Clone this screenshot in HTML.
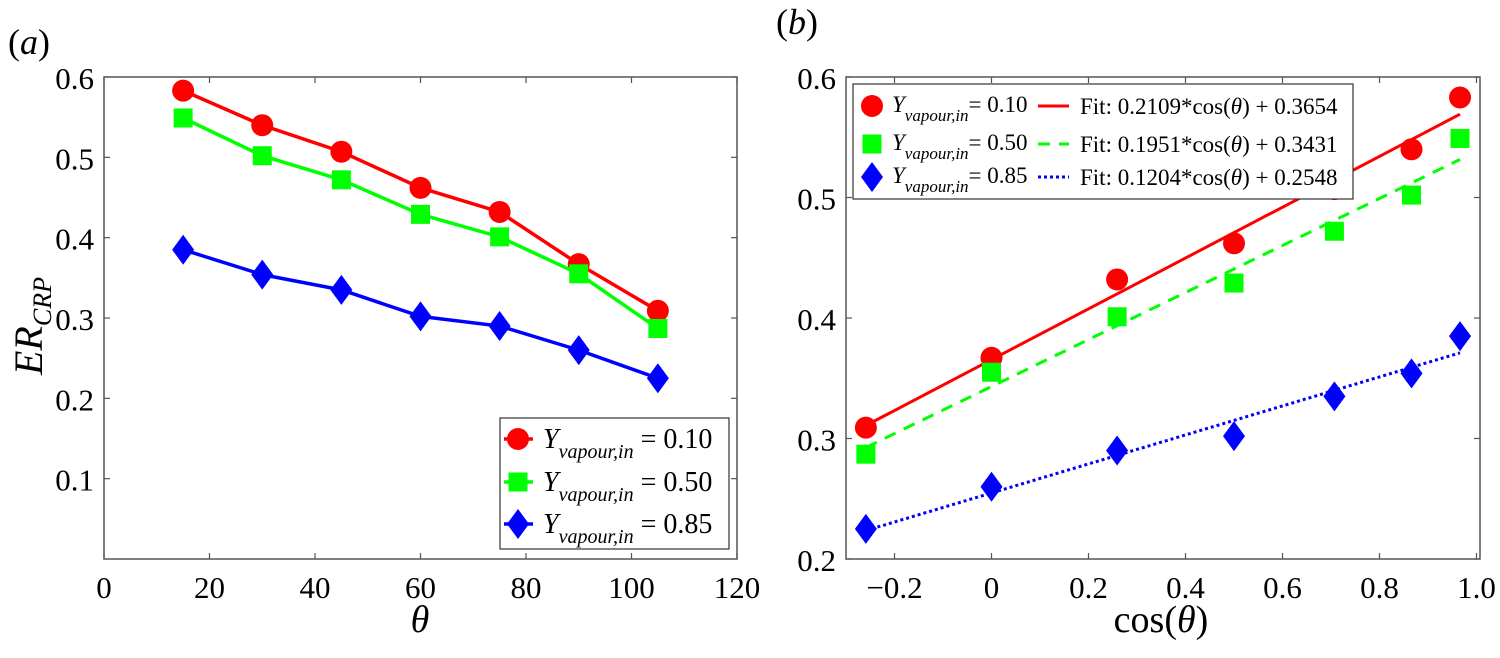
<!DOCTYPE html>
<html><head><meta charset="utf-8"><style>
body{margin:0;background:#fff;}
svg, svg text{font-family:"Liberation Serif","DejaVu Serif",serif;}
</style></head><body>
<svg id="c" width="1500" height="653" xmlns="http://www.w3.org/2000/svg" font-family="Liberation Serif, DejaVu Serif, serif"></svg>
<script>
const thetaVals=[15,30,45,60,75,90,105];
const cosVals=[0.966,0.866,0.707,0.5,0.259,0,-0.259];
const seriesRed=[0.583,0.540,0.507,0.462,0.432,0.367,0.309];
const seriesGreen=[0.549,0.502,0.472,0.429,0.401,0.355,0.287];
const seriesBlue=[0.385,0.354,0.335,0.302,0.290,0.260,0.225];
const fitSlopes=[0.2109,0.1951,0.1204];
const fitIntercepts=[0.3654,0.3431,0.2548];
const legendVals=["0.10","0.50","0.85"];
const leftXTicks=[0,20,40,60,80,100,120];
const leftYTicks=[0.1,0.2,0.3,0.4,0.5,0.6];
const rightXTicks=[-0.2,0,0.2,0.4,0.6,0.8,1.0];
const rightXTickLabels=["\u22120.2","0","0.2","0.4","0.6","0.8","1.0"];
const rightYTicks=[0.2,0.3,0.4,0.5,0.6];

const svg=document.getElementById('c');
const NS='http://www.w3.org/2000/svg';
const FF='"Liberation Serif","DejaVu Serif",serif';
function mk(tag,attrs,parent){const e=document.createElementNS(NS,tag);for(const k in attrs)e.setAttribute(k,attrs[k]);if(tag==='text'){e.style.fontFamily=FF;e.setAttribute('fill','#000');}(parent||svg).appendChild(e);return e;}
const colors=['#ff0000','#00ff00','#0000ff'];
const allSeries=[seriesRed,seriesGreen,seriesBlue];

const L={x0:104,x1:737,y0:559,y1:77,xmin:0,xmax:120,ymin:0,ymax:0.6};
const R={x0:846,x1:1480,y0:559,y1:77,xmin:-0.3,xmax:1.0072,ymin:0.2,ymax:0.6};
function sx(A,v){return A.x0+(v-A.xmin)/(A.xmax-A.xmin)*(A.x1-A.x0);}
function sy(A,v){return A.y0-(v-A.ymin)/(A.ymax-A.ymin)*(A.y0-A.y1);}

function marker(g,kind,x,y,col){
  let m;
  if(kind===0)m=mk('circle',{cx:x,cy:y,r:11,fill:col},g);
  else if(kind===1)m=mk('rect',{x:x-9.5,y:y-9.5,width:19,height:19,fill:col},g);
  else m=mk('polygon',{points:`${x},${y-15} ${x+11},${y} ${x},${y+15} ${x-11},${y}`,fill:col},g);
  return m;
}
function axes(A,name,xt,xl,yt){
  const g=mk('g',{});
  
  
  mk('rect',{x:A.x0,y:A.y1,width:A.x1-A.x0,height:A.y0-A.y1,fill:'none',stroke:'#555','stroke-width':1.5},g);
  xt.forEach((v,i)=>{const x=sx(A,v);
    mk('line',{x1:x,x2:x,y1:A.y0,y2:A.y0-6,stroke:'#555','stroke-width':1.2},g);
    mk('line',{x1:x,x2:x,y1:A.y1,y2:A.y1+6,stroke:'#555','stroke-width':1.2},g);
    const t=mk('text',{x:x,y:A.y0+39,'font-size':31,'text-anchor':'middle'},g);t.textContent=xl[i];
    
    
  });
  yt.forEach(v=>{const y=sy(A,v);
    mk('line',{x1:A.x0,x2:A.x0+6,y1:y,y2:y,stroke:'#555','stroke-width':1.2},g);
    mk('line',{x1:A.x1,x2:A.x1-6,y1:y,y2:y,stroke:'#555','stroke-width':1.2},g);
    const t=mk('text',{x:A.x0-10,y:y+12,'font-size':31,'text-anchor':'end'},g);t.textContent=v.toFixed(1);
    
    
  });
}
axes(L,'left',leftXTicks,leftXTicks.map(String),leftYTicks);
axes(R,'right',rightXTicks,rightXTickLabels,rightYTicks);

allSeries.forEach((s,k)=>{
  const g=mk('g',{});
  
  
  mk('polyline',{points:thetaVals.map((t,i)=>sx(L,t)+','+sy(L,s[i])).join(' '),fill:'none',stroke:colors[k],'stroke-width':3.5},g);
  thetaVals.forEach((t,i)=>{const m=marker(g,k,sx(L,t),sy(L,s[i]),colors[k]);
    
    });
});
const dashes=['none','12 9','3 3'];
allSeries.forEach((s,k)=>{
  const g=mk('g',{});
  
  
  const xa=Math.min(...cosVals),xb=Math.max(...cosVals);
  const ln=mk('line',{x1:sx(R,xa),y1:sy(R,fitSlopes[k]*xa+fitIntercepts[k]),x2:sx(R,xb),y2:sy(R,fitSlopes[k]*xb+fitIntercepts[k]),stroke:colors[k],'stroke-width':3,'stroke-dasharray':dashes[k]},g);
  
  
  cosVals.forEach((c,i)=>{const m=marker(g,k,sx(R,c),sy(R,s[i]),colors[k]);
    
    });
});

const lg=mk('g',{});


mk('rect',{x:500,y:418,width:229,height:131,fill:'#fff',stroke:'#333','stroke-width':1.2},lg);
[439,482,524].forEach((y,k)=>{
  mk('line',{x1:504,x2:533,y1:y,y2:y,stroke:colors[k],'stroke-width':3.5},lg);
  marker(lg,k,518,y,colors[k]);
  const t=mk('text',{x:543,y:y+9,'font-size':28},lg);
  t.innerHTML=`<tspan font-style="italic">Y</tspan><tspan font-style="italic" font-size="20" dy="10">vapour,in</tspan><tspan dy="-10"> = ${legendVals[k]}</tspan>`;
  
  
});
const rg=mk('g',{});


mk('rect',{x:853,y:84,width:500,height:115,fill:'#fff',stroke:'#333','stroke-width':1.2},rg);
[106,144,177].forEach((y,k)=>{
  marker(rg,k,872,y,colors[k]);
  const t=mk('text',{x:892,y:y+6,'font-size':23},rg);
  t.innerHTML=`<tspan font-style="italic">Y</tspan><tspan font-style="italic" font-size="17" dy="9">vapour,in</tspan><tspan dy="-9">= ${legendVals[k]}</tspan>`;
  
  
  mk('line',{x1:1038,x2:1069,y1:y,y2:y,stroke:colors[k],'stroke-width':3,'stroke-dasharray':dashes[k]},rg);
  const f=mk('text',{x:1080,y:y+8,'font-size':23},rg);
  f.innerHTML=`Fit: ${fitSlopes[k].toFixed(4)}*cos(<tspan font-style="italic">θ</tspan>) + ${fitIntercepts[k].toFixed(4)}`;
  
  
});

function txt(x,y,s,size,name,extra){const t=mk('text',Object.assign({x:x,y:y,'font-size':size},extra||{}));t.innerHTML=s;
  
  return t;}
txt(8,54,'(<tspan font-style="italic">a</tspan>)',36,'panel-a-label');
txt(776,34,'(<tspan font-style="italic">b</tspan>)',36,'panel-b-label');
txt(420,632,'θ',38,'x-axis-title-left',{'font-style':'italic','text-anchor':'middle'});
txt(1161,632,'cos(<tspan font-style="italic">θ</tspan>)',38,'x-axis-title-right',{'text-anchor':'middle'});
txt(0,0,'<tspan font-style="italic">ER</tspan><tspan font-style="italic" font-size="26" dy="9">CRP</tspan>',40,'y-axis-title',{transform:'translate(42,375) rotate(-90)'});
</script>
</body></html>
